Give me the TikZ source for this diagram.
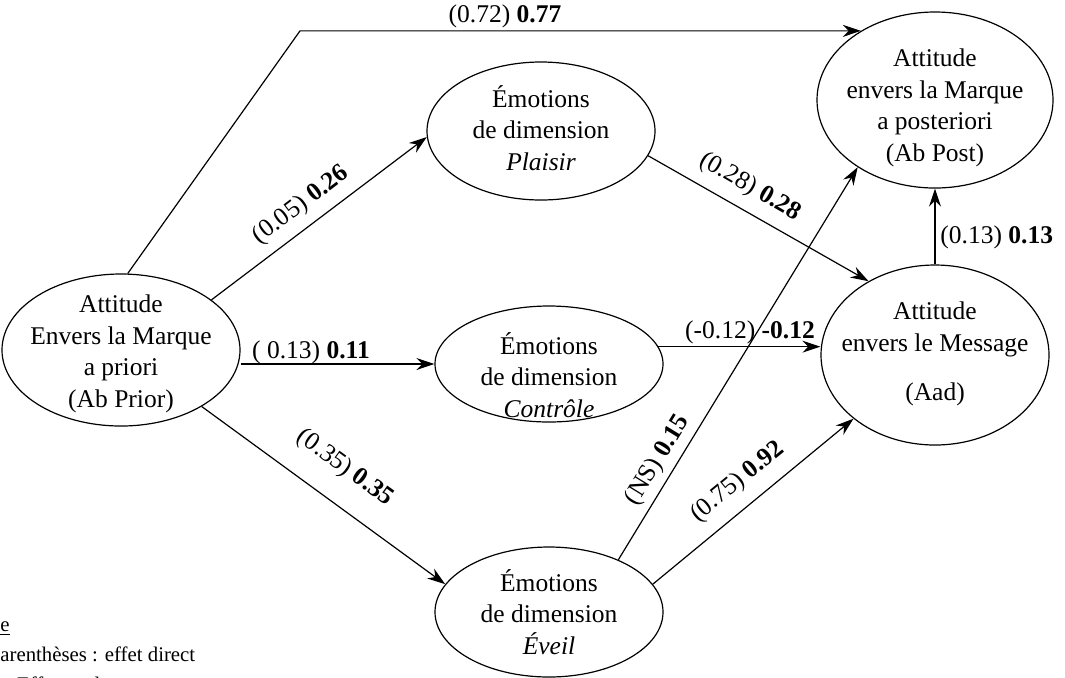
\documentclass[tikz,border=0pt]{standalone}
\usepackage{fontspec}
\setmainfont{Liberation Serif}
\usetikzlibrary{arrows.meta,shapes.geometric}
\begin{document}
\begin{tikzpicture}[x=0.5pt,y=-0.5pt,
 ell/.style={draw,ellipse,inner sep=0pt,line width=0.6pt},
 txt/.style={align=center,font=\fontsize{12.75pt}{15.8pt}\selectfont,inner sep=0pt},
 lab/.style={font=\fontsize{12.75pt}{15.8pt}\selectfont,inner sep=0pt},
 arr/.style={-{Stealth[length=9pt,width=6pt]},line width=0.6pt},
 leg/.style={font=\fontsize{10.4pt}{15pt}\selectfont,inner sep=0pt,anchor=base west}]
\useasboundingbox (0,0) rectangle (1065,677);
\clip (0,0) rectangle (1065,677);
% ellipses
\node[ell,minimum width=119pt,minimum height=76pt] (prior) at (121,350) {};
\node[ell,minimum width=114pt,minimum height=69pt] (plaisir) at (541,131) {};
\node[ell,minimum width=114pt,minimum height=58pt] (ctrl) at (549,364) {};
\node[ell,minimum width=114pt,minimum height=65pt] (eveil) at (549,612) {};
\node[ell,minimum width=118pt,minimum height=88pt] (post) at (935,100) {};
\node[ell,minimum width=114pt,minimum height=90pt] (aad) at (935,355) {};
% texts
\node[txt] (priorT) at (121,354) {Attitude\\Envers la Marque\\a priori\\(Ab Prior)};
\node[txt] (plaisirT) at (541,128) {Émotions\\de dimension\\\textit{Plaisir}};
\node[txt] (ctrlT) at (549,375) {Émotions\\de dimension\\\textit{Contrôle}};
\node[txt] (eveilT) at (549,612) {Émotions\\de dimension\\\textit{Éveil}};
\node[txt] (postT) at (935,108) {Attitude\\envers la Marque\\a posteriori\\(Ab Post)};
\node[txt] (aadT) at (935,354) {Attitude\\envers le Message\\[9pt](Aad)};
% connectors
\coordinate (bend) at (300,0);
\draw[arr] (prior.85) -- (post.137 -| bend) -- (post.137);
\draw[arr] (prior.29) -- (plaisir.183);
\draw[arr] (prior.east |- ctrl.west) -- (ctrl.west);
\draw[arr] (prior.-35) -- (eveil.165);
\draw[arr] (plaisir.-13) -- (aad.132);
\draw[arr] (ctrl.9) -- (ctrl.9 -| aad.west);
\draw[arr] (eveil.37) -- (post.221);
\draw[arr] (eveil.15) -- (aad.218);
\draw[arr] (aad.north) -- (post.south);
% labels
\node[lab,rotate=37.3] (l1) at (301,205) {(0.05) \textbf{0.26}};
\node[lab] (l2) at (311,352) {( 0.13) \textbf{0.11}};
\node[lab,rotate=-35.9] (l3) at (345,468) {(0.35) \textbf{0.35}};
\node[lab,rotate=-30] (l4) at (750,187) {(0.28) \textbf{0.28}};
\node[lab] (l5) at (750,332) {(-0.12) \textbf{-0.12}};
\node[lab,rotate=58.4] (l6) at (658,460) {(NS) \textbf{0.15}};
\node[lab,rotate=39.3] (l7) at (738,482) {(0.75) \textbf{0.92}};
\node[lab] (l8) at (505,16) {(0.72) \textbf{0.77}};
\node[lab,anchor=west] (l9) at (940,237) {(0.13) \textbf{0.13}};
% legend
\node[leg] (leg1) at (0,631) {\underline{e}};
\node[leg] (leg2) at (0,661) {arenthèses : effet direct};
\node[leg] (leg3) at (4,691) {: Effet total};
\end{tikzpicture}
\end{document}
